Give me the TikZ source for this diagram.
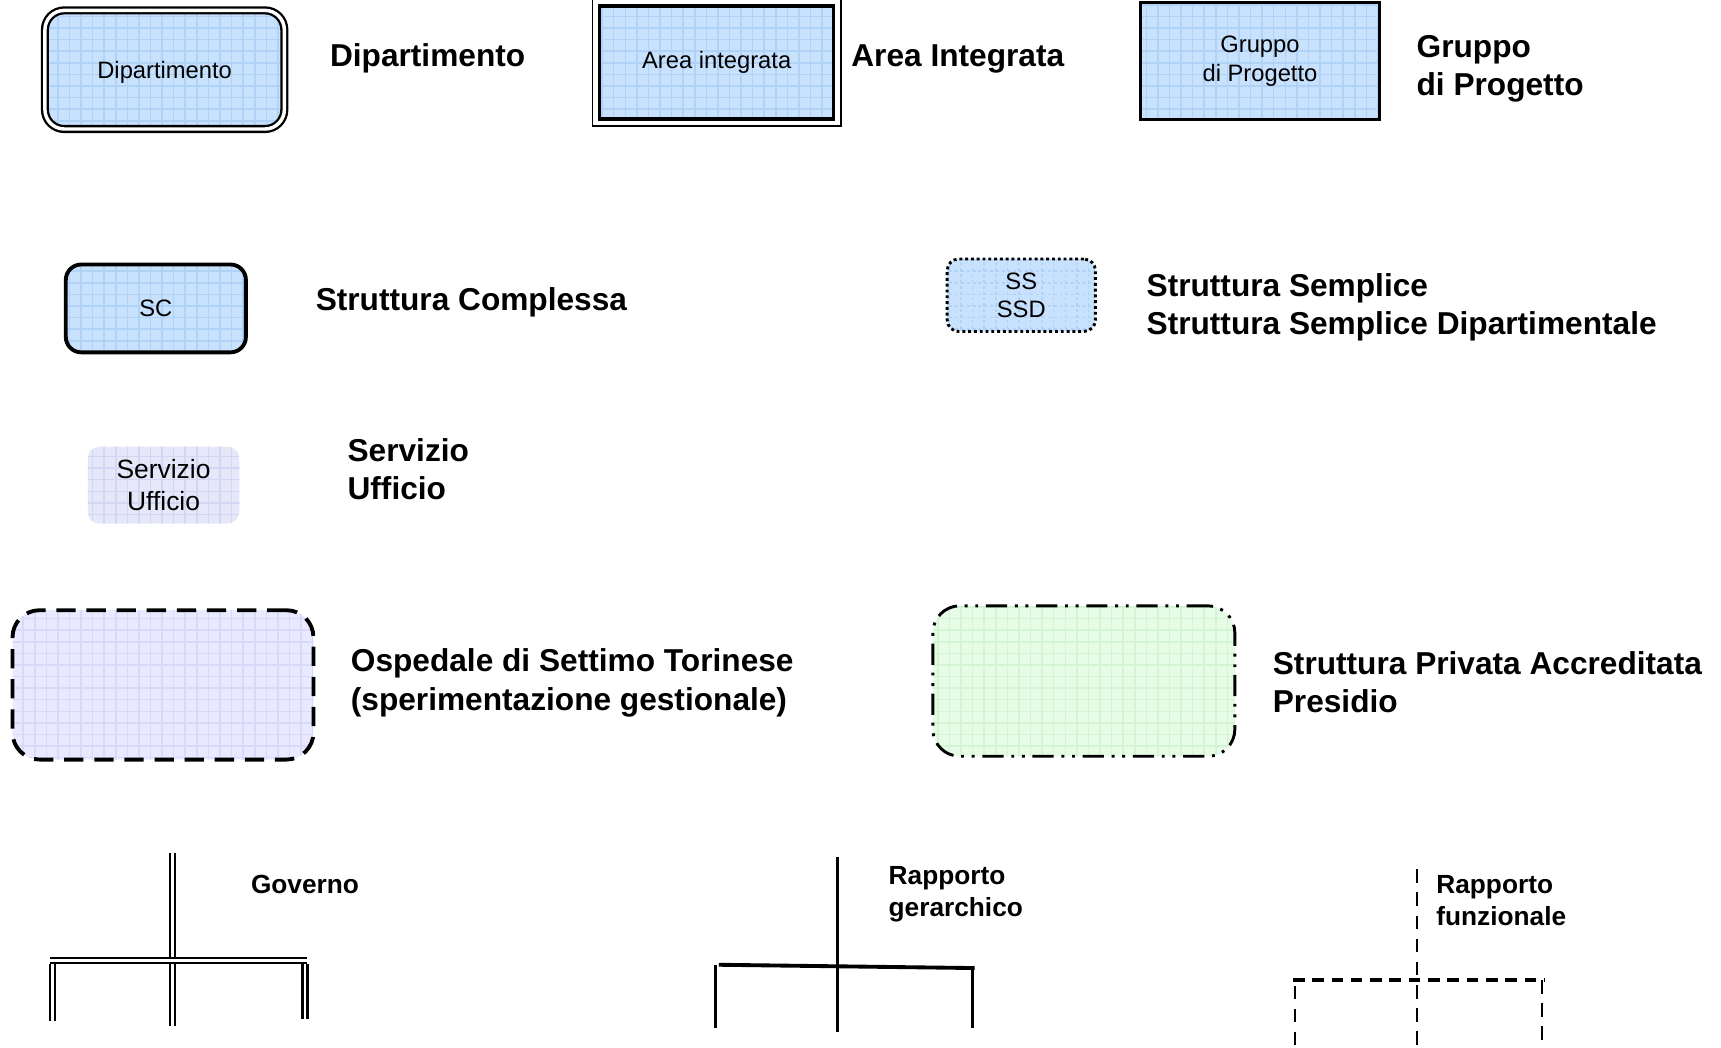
\documentclass[tikz,border=0pt]{standalone}
\usepackage{fontspec}
\setmainfont{Liberation Sans}
\usepackage{tikz}
\usetikzlibrary{positioning,patterns,calc}
\definecolor{boxblue}{RGB}{200,225,252}
\definecolor{gridblue}{RGB}{176,210,247}
\definecolor{svclilac}{RGB}{230,232,249}
\definecolor{svcgrid}{RGB}{210,216,243}
\definecolor{osplilac}{RGB}{233,233,255}
\definecolor{ospgrid}{RGB}{217,217,250}
\definecolor{privgreen}{RGB}{231,252,231}
\definecolor{privgrid}{RGB}{212,245,212}
\tikzset{%
    unit/.style 2 args={%
        preaction={fill=#1}, pattern=grid, pattern color=#2,
        inner sep=0pt, align=center,
        font=\fontsize{6.15}{7.4}\selectfont},
    dept/.style={unit={boxblue}{gridblue}, draw, double, line width=0.6pt,
        double distance=0.9pt, rounded corners=5pt},
    legend/.style={anchor=base west, inner sep=0pt, align=left,
        font=\bfseries\fontsize{8.2}{9.9}\selectfont},
    smalllegend/.style={legend, font=\bfseries\fontsize{6.8}{8.2}\selectfont},
    govline/.style={double, line width=0.6pt, double distance=0.7pt},
    hierline/.style={line width=0.7pt},
    funcline/.style={line width=0.7pt, dash pattern=on 3.5pt off 2.5pt}
}
\begin{document}
\begin{tikzpicture}[x=0.01cm,y=-0.01cm]
    \useasboundingbox (0,0) rectangle (1568,954);
    % first row
    \node[dept, minimum width=2.18cm, minimum height=1.08cm, text depth=0pt] (dip) at (150,63.5) {Dipartimento};
    \node[legend] (diplbl) at (300,61) {Dipartimento};
    \node[unit={boxblue}{gridblue}, draw, line width=0.9pt, minimum width=2.13cm, minimum height=1.03cm] (area) at (653,57) {Area integrata};
    \draw[line width=0.5pt] ($(area.north west)+(-5,-5)$) rectangle ($(area.south east)+(5,5)$);
    \node[legend] (arealbl) at (775,61) {Area Integrata};
    \node[unit={boxblue}{gridblue}, draw, line width=0.7pt, minimum width=2.18cm, minimum height=1.07cm] (gruppo) at (1148,55.5) {Gruppo\\di Progetto};
    \node[legend] (gruppolbl) at (1290,87) {Gruppo\\di Progetto};
    % second row
    \node[unit={boxblue}{gridblue}, draw, line width=1pt, rounded corners=4pt, minimum width=1.64cm, minimum height=0.80cm] (sc) at (142,281) {SC};
    \node[legend] (sclbl) at (287,283) {Struttura Complessa};
    \node[unit={boxblue}{gridblue}, draw, line width=0.75pt, dash pattern=on 0.75pt off 0.75pt, rounded corners=3pt, minimum width=1.35cm, minimum height=0.66cm] (ss) at (930.5,269) {SS\\SSD};
    \node[legend] (sslbl) at (1044,305) {Struttura Semplice\\Struttura Semplice Dipartimentale};
    % third row
    \node[unit={svclilac}{svcgrid}, rounded corners=3pt, minimum width=1.38cm, minimum height=0.70cm, font=\fontsize{6.85}{8.2}\selectfont] (svc) at (149,442) {Servizio\\Ufficio};
    \node[legend] (svclbl) at (316,455) {Servizio\\Ufficio};
    % fourth row
    \node[unit={osplilac}{ospgrid}, draw, line width=1pt, dash pattern=on 5pt off 2.8pt, rounded corners=7pt, minimum width=2.74cm, minimum height=1.36cm] (osp) at (148.5,624) {};
    \node[legend] (osplbl) at (319,647) {Ospedale di Settimo Torinese\\(sperimentazione gestionale)};
    \node[unit={privgreen}{privgrid}, draw, line width=0.75pt, dash pattern=on 5.5pt off 2pt on 0.75pt off 2pt on 0.75pt off 2pt, rounded corners=7pt, minimum width=2.75cm, minimum height=1.37cm] (priv) at (987.5,620.5) {};
    \node[legend] (privlbl) at (1159,649) {Struttura Privata Accreditata\\Presidio};
    % legend of the connectors
    \coordinate (govtop) at (157,777);
    \coordinate (govbot) at (157,935);
    \coordinate (govl) at (46,875);
    \coordinate (govr) at (280,875);
    \coordinate (govlb) at (48,930);
    \coordinate (govrb) at (278,928);
    \draw[govline] (govtop) -- (govbot);
    \draw[govline] (govl) -- (govr);
    \draw[govline] (govlb |- govl) ++(0,3) -- (govlb);
    \draw[govline] (govrb |- govr) ++(0,3) -- (govrb);
    \node[smalllegend] (govlbl) at (228,814) {Governo};
    \coordinate (hiertop) at (763,781);
    \coordinate (hierbot) at (763,940);
    \coordinate (hierl) at (655,879);
    \coordinate (hierr) at (888,882);
    \coordinate (hierlb) at (652,937);
    \coordinate (hierrb) at (886,937);
    \draw[hierline] (hiertop) -- (hierbot);
    \draw[line width=1pt] (hierl) -- (hierr);
    \draw[hierline] (hierlb |- hierl) -- (hierlb);
    \draw[hierline] (hierrb |- hierr) -- (hierrb);
    \node[smalllegend] (hierlbl) at (809,835) {Rapporto\\gerarchico};
    \coordinate (functop) at (1291,792);
    \coordinate (funcbot) at (1291,955);
    \coordinate (funcl) at (1178,893);
    \coordinate (funcr) at (1408,893);
    \coordinate (funclb) at (1180,955);
    \coordinate (funcrb) at (1405,955);
    \draw[funcline] (functop) -- (funcbot);
    \draw[funcline, line width=0.9pt, dash pattern=on 3pt off 2pt] (funcl) -- (funcr);
    \draw[funcline] (funclb |- funcl) ++(0,5) -- (funclb);
    \draw[funcline] (funcrb |- funcr) -- (funcrb);
    \node[smalllegend] (funclbl) at (1308,843) {Rapporto\\funzionale};
\end{tikzpicture}
\end{document}
